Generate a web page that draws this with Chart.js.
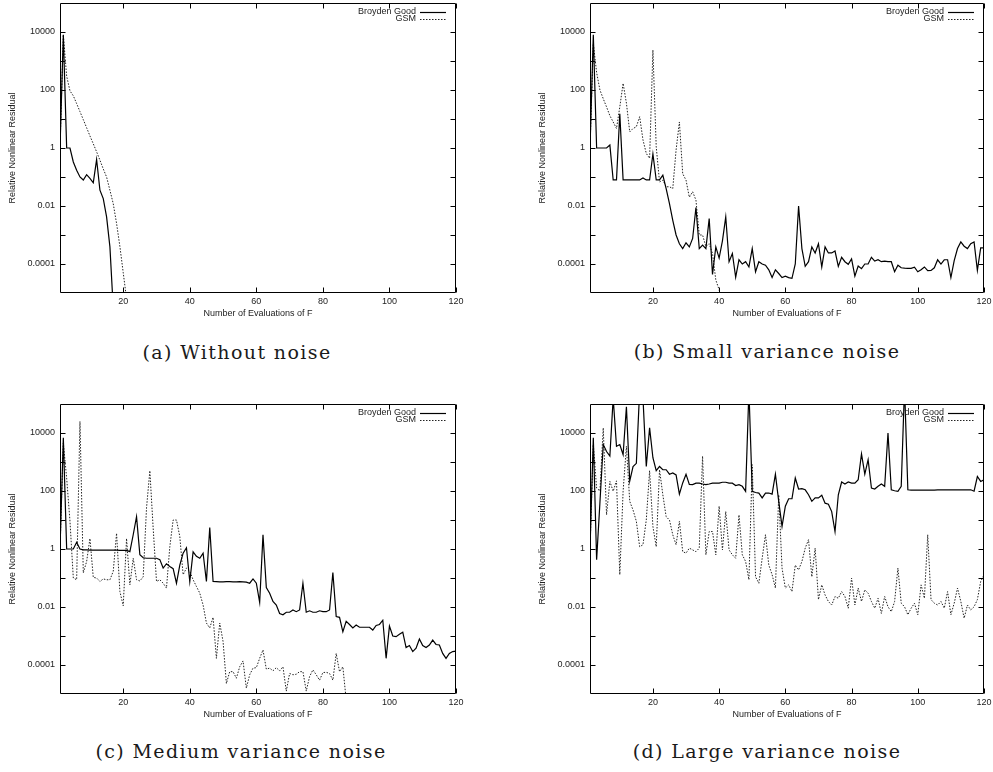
<!DOCTYPE html>
<html>
<head>
<meta charset="utf-8">
<script src="https://cdn.jsdelivr.net/npm/chart.js@4.4.0/dist/chart.umd.min.js"></script>
<style>
  body { margin: 0; background: #fff; width: 993px; height: 772px; position: relative; overflow: hidden; }
  canvas { position: absolute; }
  .cap { position: absolute; font-family: "DejaVu Serif", serif; font-size: 19px; letter-spacing: 1.4px;
         color: #1a1a1a; white-space: nowrap; transform: translate(-50%, -50%); }
</style>
</head>
<body>
<canvas id="ca" width="480" height="330" style="left:0;top:0"></canvas>
<canvas id="cb" width="463" height="330" style="left:530px;top:0"></canvas>
<canvas id="cc" width="480" height="330" style="left:0;top:401px"></canvas>
<canvas id="cd" width="463" height="330" style="left:530px;top:401px"></canvas>
<div class="cap" style="left:237px;top:352px">(a) Without noise</div>
<div class="cap" style="left:767px;top:351px">(b) Small variance noise</div>
<div class="cap" style="left:241px;top:751px">(c) Medium variance noise</div>
<div class="cap" style="left:767px;top:751px">(d) Large variance noise</div>
<script>
// values, one per evaluation of F (x = 1, 2, 3, ...)
const seriesNames = ['Broyden Good', 'GSM'];
const xTitle = 'Number of Evaluations of F';
const yTitle = 'Relative Nonlinear Residual';
const xTickValues = [20, 40, 60, 80, 100, 120];
const yTickValues = [1e-4, 1e-3, 1e-2, 1e-1, 1, 10, 100, 1e3, 1e4];
const yLabelled = [1e-4, 1e-2, 1, 100, 1e4];
const yLabelText = ['0.0001', '0.01', '1', '100', '10000'];

// (a) without noise
const broydenA = [1, 8000, 1, 1, 0.33, 0.17, 0.1, 0.079, 0.12, 0.089,
  0.063, 0.4, 0.035, 0.018, 0.0042, 0.00039, 3e-6, 1e-8];
const gsmA = [1, 8000, 300, 93, 63, 34, 18, 9.5, 5, 2.6,
  1.4, 0.74, 0.38, 0.19, 0.1, 0.035, 0.012, 0.0025, 0.0004, 5e-5,
  6.3e-6, 1e-7];

// (b) small variance noise
const broydenB = [1, 8000, 1, 1, 1, 1, 1.26, 0.079, 0.079, 15,
  0.079, 0.079, 0.079, 0.079, 0.079, 0.079, 0.093, 0.079, 0.079, 0.62,
  0.079, 0.079, 0.115, 0.04, 0.012, 0.0032, 0.001, 0.0005, 0.00034, 0.00054,
  0.00039, 0.00076, 0.0089, 0.00034, 0.00045, 0.00034, 0.0037, 4.4e-5, 0.00039, 0.00016,
  0.00063, 0.0042, 0.00012, 0.00023, 3.5e-5, 0.00014, 0.0001, 0.00012, 7.9e-5, 0.00034,
  5.4e-5, 0.00012, 0.0001, 9.1e-5, 6.3e-5, 3.4e-5, 6.3e-5, 4.7e-5, 3.4e-5, 3.8e-5,
  3.4e-5, 3.2e-5, 0.0001, 0.01, 0.00034, 8.3e-5, 0.00012, 0.00039, 0.00024, 0.0005,
  7.9e-5, 0.00039, 0.00024, 0.00024, 0.00028, 8.3e-5, 0.00017, 0.00012, 9.8e-5, 0.00015,
  3.8e-5, 8.5e-5, 6.9e-5, 0.0001, 0.0001, 0.00017, 0.000126, 0.00014, 0.00012, 0.000126,
  0.00012, 0.00012, 5.4e-5, 9.1e-5, 7.4e-5, 7.2e-5, 7.1e-5, 7.1e-5, 7.8e-5, 5.4e-5,
  6.3e-5, 7.9e-5, 5.9e-5, 6e-5, 7.4e-5, 0.00014, 0.0001, 0.00014, 0.00014, 3.4e-5,
  0.00013, 0.00034, 0.00058, 0.00041, 0.00034, 0.0005, 0.00058, 6e-5, 0.00036, 0.00036];
const gsmB = [1, 4000, 400, 100, 50, 26, 13, 7.9, 4.7, 26,
  170, 35, 3.6, 4.7, 5.4, 12, 1.9, 0.65, 0.44, 2400,
  1.1, 0.068, 0.078, 0.046, 0.046, 0.04, 0.85, 7.9, 0.13, 0.078,
  0.02, 0.031, 0.016, 0.001, 0.001, 0.0004, 0.0005, 0.00023, 2.8e-5, 1.3e-5,
  3.2e-6];

// (c) medium variance noise
const broydenC = [1, 6800, 1, 1, 1, 1.7, 1, 0.93, 0.93, 0.92,
  0.92, 0.92, 0.92, 0.92, 0.92, 0.92, 0.91, 0.91, 0.9, 0.9,
  0.89, 0.81, 3.1, 13, 0.63, 0.5, 0.48, 0.48, 0.48, 0.48,
  0.43, 0.22, 0.31, 0.25, 0.21, 0.066, 0.28, 0.72, 1.1, 0.076,
  0.8, 0.56, 0.48, 0.72, 0.076, 5.5, 0.076, 0.075, 0.074, 0.074,
  0.075, 0.075, 0.074, 0.074, 0.075, 0.074, 0.072, 0.066, 0.093, 0.066,
  0.0145, 3.1, 0.047, 0.03, 0.0155, 0.0117, 0.006, 0.0054, 0.0066, 0.0066,
  0.0079, 0.0069, 0.0079, 0.066, 0.0066, 0.0074, 0.0066, 0.0066, 0.0074, 0.0069,
  0.0069, 0.0079, 0.155, 0.0047, 0.0044, 0.0014, 0.0032, 0.0025, 0.0019, 0.0024,
  0.002, 0.002, 0.002, 0.002, 0.0016, 0.0023, 0.0025, 0.0035, 0.00017, 0.0022,
  0.001, 0.00095, 0.00115, 0.00135, 0.0004, 0.00047, 0.00029, 0.00038, 0.00079, 0.00047,
  0.0004, 0.00049, 0.00072, 0.00051, 0.00049, 0.00025, 0.00017, 0.00025, 0.00029, 0.0003];
const gsmC = [1, 4500, 280, 9, 0.1, 0.087, 25000, 0.15, 0.37, 2.3,
  0.105, 0.1, 0.076, 0.093, 0.087, 0.087, 0.17, 3.5, 0.034, 0.011,
  2.3, 0.058, 0.48, 0.087, 0.079, 0.11, 26, 500, 5.2, 0.076,
  0.087, 0.066, 0.045, 1.2, 10, 10, 2.7, 0.13, 0.22, 0.17,
  0.087, 0.051, 0.03, 0.0117, 0.0028, 0.0019, 0.0044, 0.00017, 0.0028, 0.00065,
  2.3e-5, 5.9e-5, 5.9e-5, 3.5e-5, 8.7e-5, 0.000138, 1.6e-5, 4.6e-5, 7.8e-5, 8.1e-5,
  0.00017, 0.00033, 7.2e-5, 7.8e-5, 6.3e-5, 8.1e-5, 6.3e-5, 8.7e-5, 1.26e-5, 5.1e-5,
  4.6e-5, 4.8e-5, 5.9e-5, 5.9e-5, 1.26e-5, 4e-5, 6.8e-5, 4.6e-5, 3e-5, 5.5e-5,
  5.6e-5, 5.1e-5, 3e-5, 0.00025, 5.9e-5, 8.7e-5, 6.3e-6];

// (d) large variance noise
const broydenD = [1, 6800, 0.43, 40, 4000, 2300, 1600, 1.6e5, 3500, 4000,
  1800, 80000, 220, 700, 900, 3e5, 1.6e5, 700, 15000, 1400,
  500, 700, 540, 540, 380, 420, 360, 78, 190, 380,
  170, 166, 186, 186, 174, 166, 174, 186, 186, 186,
  200, 200, 186, 186, 155, 166, 145, 98, 3e5, 98,
  89, 85, 58, 85, 85, 78, 380, 44, 6, 30,
  54, 54, 280, 117, 120, 110, 74, 44, 58, 58,
  71, 38, 35, 19.5, 4, 74, 204, 174, 204, 186,
  186, 245, 1900, 380, 1200, 126, 117, 145, 174, 145,
  10000, 110, 102, 98, 145, 4e5, 110, 108, 108, 107,
  107, 107, 108, 108, 108, 109, 109, 109, 110, 110,
  110, 110, 110, 110, 110, 110, 98, 316, 214, 245];
const gsmD = [1, 4000, 126, 100, 15000, 15, 214, 98, 224, 0.13,
  98, 3500, 44, 22, 9, 1.2, 1.4, 10, 500, 6,
  1.2, 540, 74, 13, 10, 3.1, 1.4, 9, 0.81, 0.72,
  1.07, 0.93, 0.81, 1.07, 1600, 0.63, 4, 4, 0.63, 30,
  0.93, 19.5, 0.93, 0.63, 0.48, 15, 0.63, 0.37, 0.087, 810,
  0.11, 0.066, 0.48, 3.1, 0.28, 0.13, 0.045, 74, 0.22, 0.045,
  0.058, 0.034, 0.28, 0.19, 0.37, 1.07, 2.1, 0.11, 1.07, 0.018,
  0.058, 0.026, 0.0155, 0.0117, 0.023, 0.02, 0.034, 0.023, 0.0091, 0.1,
  0.0117, 0.045, 0.0155, 0.039, 0.03, 0.0155, 0.0091, 0.02, 0.006, 0.023,
  0.0102, 0.0069, 0.0155, 0.22, 0.0135, 0.0102, 0.0054, 0.0091, 0.0135, 0.0054,
  0.058, 0.02, 3.1, 0.018, 0.0135, 0.0117, 0.0155, 0.0091, 0.034, 0.0054,
  0.0135, 0.045, 0.0155, 0.0041, 0.0117, 0.0079, 0.0102, 0.018, 0.076, 0.126];

const smallFont = { family: '"Liberation Sans", Arial, sans-serif', size: 9 };
const textColor = '#222';
const tickLen = 5;

// gnuplot style frame with inward ticks on all four sides
const framePlugin = {
  id: 'frame',
  afterDatasetsDraw(chart) {
    const { ctx, chartArea: a, scales: { x, y } } = chart;
    const L = Math.round(a.left) + 0.5, R = Math.round(a.right) - 0.5;
    const T = Math.round(a.top) + 0.5, B = Math.round(a.bottom) - 0.5;
    ctx.save();
    ctx.strokeStyle = '#000';
    ctx.lineWidth = 1;
    ctx.beginPath();
    ctx.rect(L, T, R - L, B - T);
    x.ticks.forEach(t => {
      const px = Math.round(x.getPixelForValue(t.value)) + 0.5;
      ctx.moveTo(px, B); ctx.lineTo(px, B - tickLen);
      ctx.moveTo(px, T); ctx.lineTo(px, T + tickLen);
    });
    y.ticks.forEach(t => {
      const py = Math.round(y.getPixelForValue(t.value)) + 0.5;
      ctx.moveTo(L, py); ctx.lineTo(L + tickLen, py);
      ctx.moveTo(R, py); ctx.lineTo(R - tickLen, py);
    });
    ctx.stroke();
    ctx.restore();
  }
};

// key in the top right corner: text first, line sample after it
const keyPlugin = {
  id: 'key',
  afterDraw(chart) {
    const { ctx, chartArea: a } = chart;
    ctx.save();
    ctx.font = '9px "Liberation Sans", Arial, sans-serif';
    ctx.textAlign = 'right';
    ctx.textBaseline = 'middle';
    ctx.fillStyle = textColor;
    chart.data.datasets.forEach((ds, i) => {
      const yy = a.top + 8.5 + i * 7;
      ctx.fillText(ds.label, a.right - 40, yy);
      ctx.strokeStyle = ds.borderColor;
      ctx.lineWidth = ds.borderWidth;
      ctx.setLineDash(ds.borderDash || []);
      ctx.beginPath();
      ctx.moveTo(a.right - 36, Math.round(yy) + 0.5);
      ctx.lineTo(a.right - 10, Math.round(yy) + 0.5);
      ctx.stroke();
    });
    ctx.restore();
  }
};

function toPoints(values) {
  return values.map((v, i) => ({ x: i + 1, y: v }));
}

function makeChart(id, broyden, gsm, rightPad) {
  return new Chart(document.getElementById(id), {
    type: 'line',
    data: {
      datasets: [
        { label: seriesNames[0], data: toPoints(broyden), borderColor: '#000', borderWidth: 1.2,
          pointRadius: 0, tension: 0, fill: false },
        { label: seriesNames[1], data: toPoints(gsm), borderColor: '#222', borderWidth: 1,
          borderDash: [1.5, 1.5], pointRadius: 0, tension: 0, fill: false }
      ]
    },
    options: {
      responsive: false,
      animation: false,
      events: [],
      layout: { padding: { left: 0, top: 3, right: rightPad, bottom: 5 } },
      plugins: { legend: { display: false }, tooltip: { enabled: false } },
      scales: {
        x: {
          type: 'linear', min: 1, max: 120,
          grid: { display: false, drawTicks: false },
          border: { display: false },
          afterBuildTicks: s => { s.ticks = xTickValues.map(v => ({ value: v })); },
          afterFit: s => { s.height = 32; s.paddingLeft = 0; s.paddingRight = 0; },
          ticks: { font: smallFont, color: textColor, padding: 3, maxRotation: 0, autoSkip: false,
                   callback: v => String(v) },
          title: { display: true, text: xTitle, font: smallFont, color: textColor,
                   padding: { top: 0, bottom: 6 } }
        },
        y: {
          type: 'logarithmic', min: 1e-5, max: 1e5,
          grid: { display: false, drawTicks: false },
          border: { display: false },
          afterBuildTicks: s => { s.ticks = yTickValues.map(v => ({ value: v })); },
          afterFit: s => { s.width = 60; s.paddingTop = 0; s.paddingBottom = 0; },
          ticks: { font: smallFont, color: textColor, padding: 5, autoSkip: false,
                   callback: v => { const k = yLabelled.indexOf(v); return k < 0 ? '' : yLabelText[k]; } },
          title: { display: true, text: yTitle, font: smallFont, color: textColor,
                   padding: { top: 7, bottom: 0 } }
        }
      }
    },
    plugins: [framePlugin, keyPlugin]
  });
}

makeChart('ca', broydenA, gsmA, 24);
makeChart('cb', broydenB, gsmB, 9);
makeChart('cc', broydenC, gsmC, 24);
makeChart('cd', broydenD, gsmD, 9);
</script>
</body>
</html>
